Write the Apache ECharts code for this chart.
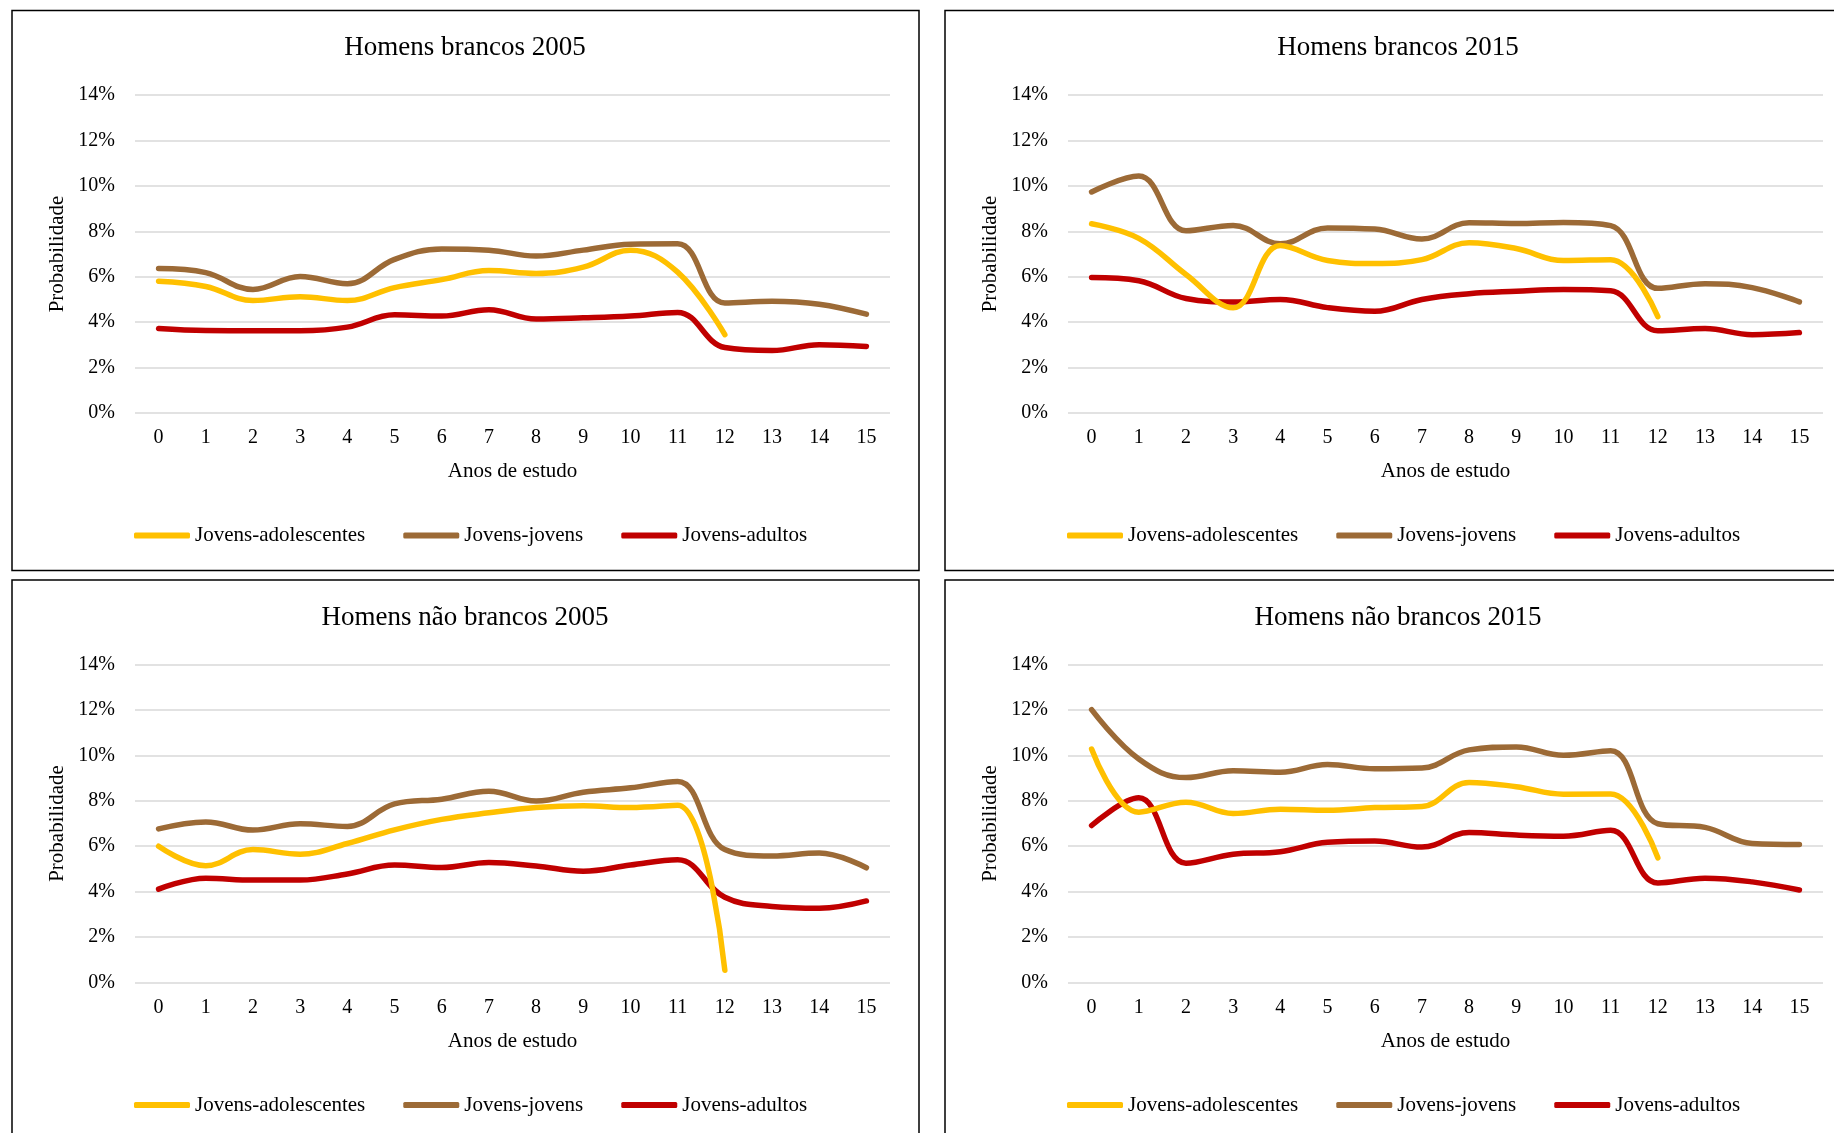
<!DOCTYPE html>
<html>
<head>
<meta charset="utf-8">
<script src="https://cdn.jsdelivr.net/npm/echarts@6/dist/echarts.min.js"></script>
<style>
  html, body { margin: 0; padding: 0; background: #fff; }
  #chart { width: 1834px; height: 1133px; }
</style>
</head>
<body>
<div id="chart"></div>
<script>
// anos de estudo
const anos = ['0', '1', '2', '3', '4', '5', '6', '7', '8', '9', '10', '11', '12', '13', '14', '15'];
const seriesNames = ['Jovens-adolescentes', 'Jovens-jovens', 'Jovens-adultos'];
const colors = ['#FFC000', '#9C6A36', '#C00000'];

// Homens brancos 2005 (%)
const brancos2005Adolescentes = [5.8, 5.57, 4.95, 5.12, 4.95, 5.52, 5.87, 6.27, 6.14, 6.42, 7.17, 6.2, 3.45, null, null, null];
const brancos2005Jovens = [6.36, 6.18, 5.44, 6.01, 5.69, 6.76, 7.22, 7.17, 6.91, 7.17, 7.43, 7.45, 4.84, 4.92, 4.79, 4.35];
const brancos2005Adultos = [3.72, 3.63, 3.62, 3.62, 3.78, 4.32, 4.27, 4.55, 4.14, 4.19, 4.27, 4.43, 2.88, 2.75, 3.01, 2.93];

// Homens brancos 2015 (%)
const brancos2015Adolescentes = [8.33, 7.69, 6.1, 4.63, 7.37, 6.71, 6.58, 6.75, 7.5, 7.24, 6.71, 6.75, 4.24, null, null, null];
const brancos2015Jovens = [9.73, 10.43, 8.02, 8.26, 7.45, 8.15, 8.1, 7.66, 8.38, 8.34, 8.39, 8.25, 5.49, 5.69, 5.52, 4.89];
const brancos2015Adultos = [5.96, 5.82, 5.04, 4.89, 5.0, 4.64, 4.48, 5.0, 5.25, 5.36, 5.44, 5.38, 3.62, 3.72, 3.45, 3.54];

// Homens não brancos 2005 (%)
const naoBrancos2005Adolescentes = [6.0, 5.14, 5.85, 5.65, 6.12, 6.72, 7.18, 7.47, 7.7, 7.78, 7.7, 7.8, 0.54, null, null, null];
const naoBrancos2005Jovens = [6.76, 7.07, 6.71, 6.99, 6.87, 7.86, 8.07, 8.42, 7.99, 8.38, 8.57, 8.85, 5.85, 5.57, 5.7, 5.05];
const naoBrancos2005Adultos = [4.11, 4.59, 4.51, 4.51, 4.78, 5.17, 5.06, 5.28, 5.13, 4.9, 5.17, 5.4, 3.75, 3.35, 3.27, 3.59];

// Homens não brancos 2015 (%)
const naoBrancos2015Adolescentes = [10.28, 7.5, 7.94, 7.44, 7.63, 7.58, 7.7, 7.75, 8.81, 8.62, 8.29, 8.3, 5.49, null, null, null];
const naoBrancos2015Jovens = [12.01, 9.84, 9.02, 9.32, 9.26, 9.6, 9.41, 9.44, 10.24, 10.37, 10.0, 10.2, 6.99, 6.83, 6.12, 6.07];
const naoBrancos2015Adultos = [6.91, 8.13, 5.25, 5.65, 5.76, 6.17, 6.23, 5.96, 6.6, 6.49, 6.44, 6.7, 4.38, 4.59, 4.43, 4.07];

const panels = [
  { title: 'Homens brancos 2005', dx: 0, dy: 0, data: [brancos2005Adolescentes, brancos2005Jovens, brancos2005Adultos] },
  { title: 'Homens brancos 2015', dx: 933, dy: 0, data: [brancos2015Adolescentes, brancos2015Jovens, brancos2015Adultos] },
  { title: 'Homens não brancos 2005', dx: 0, dy: 569.5, data: [naoBrancos2005Adolescentes, naoBrancos2005Jovens, naoBrancos2005Adultos] },
  { title: 'Homens não brancos 2015', dx: 933, dy: 569.5, data: [naoBrancos2015Adolescentes, naoBrancos2015Jovens, naoBrancos2015Adultos] },
];

const font = "'Liberation Serif', 'Times New Roman', serif";
const grid = [], xAxis = [], yAxis = [], series = [], legend = [], graphic = [];

panels.forEach((p, i) => {
  // moldura do painel
  graphic.push({
    type: 'rect',
    shape: { x: 12 + p.dx, y: 10.5 + p.dy, width: 907, height: 560 },
    style: { fill: 'none', stroke: '#000', lineWidth: 1.5 },
    z: 0,
  });
  graphic.push({
    type: 'text',
    x: 465 + p.dx,
    y: 48 + p.dy,
    style: {
      text: p.title,
      fontSize: 27,
      fontFamily: font,
      fill: '#000',
      align: 'center',
      verticalAlign: 'middle',
    },
  });
  grid.push({ left: 135 + p.dx, top: 95 + p.dy, width: 755, height: 318 });
  xAxis.push({
    type: 'category',
    gridIndex: i,
    data: anos,
    boundaryGap: true,
    name: 'Anos de estudo',
    nameLocation: 'middle',
    nameGap: 48,
    nameTextStyle: { fontSize: 21, fontFamily: font, color: '#000' },
    axisLine: { show: false },
    axisTick: { show: false },
    axisLabel: { fontSize: 20, fontFamily: font, color: '#000', margin: 15, interval: 0 },
  });
  yAxis.push({
    type: 'value',
    gridIndex: i,
    min: 0,
    max: 14,
    interval: 2,
    name: 'Probabilidade',
    nameLocation: 'middle',
    nameGap: 67,
    nameTextStyle: { fontSize: 21, fontFamily: font, color: '#000' },
    axisLine: { show: false },
    axisTick: { show: false },
    axisLabel: { fontSize: 20, fontFamily: font, color: '#000', margin: 20, formatter: '{value}%' },
    splitLine: { lineStyle: { color: '#d9d9d9', width: 1.5 } },
  });
  p.data.forEach((vals, k) => {
    series.push({
      name: seriesNames[k],
      type: 'line',
      xAxisIndex: i,
      yAxisIndex: i,
      data: vals,
      smooth: 0.4,
      symbol: 'none',
      connectNulls: false,
      lineStyle: { width: 5.5, color: colors[k], cap: 'round', join: 'round' },
      itemStyle: { color: colors[k] },
      z: 3 - k,
    });
  });
  legend.push({
    left: 129 + p.dx,
    top: 520 + p.dy,
    data: seriesNames,
    icon: 'roundRect',
    itemWidth: 56,
    itemHeight: 6,
    itemGap: 38,
    selectedMode: false,
    textStyle: { fontSize: 21, fontFamily: font, color: '#000' },
  });
});

const myChart = echarts.init(document.getElementById('chart'));
const option = {
  backgroundColor: '#fff',
  animation: false,
  grid,
  xAxis,
  yAxis,
  series,
  legend,
  graphic,
};
option && myChart.setOption(option);
</script>
</body>
</html>
